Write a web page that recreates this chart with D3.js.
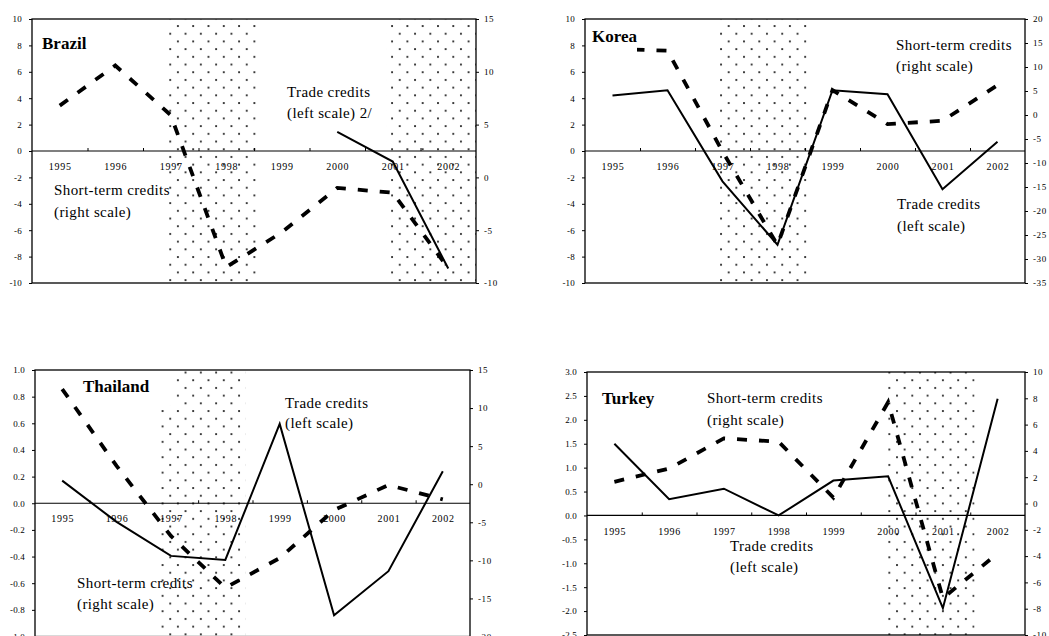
<!DOCTYPE html>
<html>
<head>
<meta charset="utf-8">
<script src="https://cdn.jsdelivr.net/npm/d3@7"></script>
<style>
  body { margin: 0; background: #fff; }
  svg { display: block; font-family: "Liberation Serif", "Times New Roman", serif; }
</style>
</head>
<body>
<script>
// values
const years = [1995, 1996, 1997, 1998, 1999, 2000, 2001, 2002];

const brazilTrade = [null, null, null, null, null, 1.45, -0.8, -8.9];
const brazilShort = [6.8, 10.6, 5.9, -8.5, -5.2, -1.0, -1.45, -8.6];

const koreaTrade = [4.2, 4.6, -2.3, -7.1, 4.6, 4.3, -2.9, 0.7];
const koreaShort = [13.8, 13.4, -7.6, -27.1, 5.2, -1.9, -1.2, 6.2];

const thaiTrade = [0.17, -0.14, -0.395, -0.425, 0.595, -0.84, -0.51, 0.24];
const thaiShort = [12.5, 2.4, -6.8, -13.6, -9.7, -3.4, -0.1, -2.0];

const turkeyTrade = [1.5, 0.34, 0.56, 0.0, 0.73, 0.82, -1.94, 2.44];
const turkeyShort = [1.65, 2.66, 4.95, 4.7, 0.45, 7.7, -7.2, -3.8];

// crisis periods (shaded), in years
const brazilCrisis = [[1996.93, 1998.57], [2000.89, 2002.5]];
const koreaCrisis = [[1996.93, 1998.6]];
const thaiCrisis = [[1996.75, 1998.37]];
const turkeyCrisis = [[1999.99, 2001.58]];

const W = 1049, H = 636;
const loc = d3.formatLocale({ decimal: ".", thousands: ",", grouping: [3], currency: ["$", ""], minus: "-" });

const svg = d3.select("body").append("svg")
    .attr("width", W)
    .attr("height", H);

// dotted fill used for the crisis bands
const pat = svg.append("defs").append("pattern")
    .attr("id", "dots")
    .attr("patternUnits", "userSpaceOnUse")
    .attr("width", 15.3)
    .attr("height", 15.4);
pat.append("rect").attr("x", 1).attr("y", 2).attr("width", 1.9).attr("height", 1.9).attr("fill", "#333");
pat.append("rect").attr("x", 8.65).attr("y", 9.7).attr("width", 1.9).attr("height", 1.9).attr("fill", "#333");

const panels = [
    {
        name: "Brazil", box: { l: 32, r: 476, t: 19, b: 283 },
        left: [-10, 10], leftTicks: d3.range(-10, 11, 2), leftFmt: "d",
        right: [-10, 15], rightTicks: d3.range(-10, 16, 5),
        trade: brazilTrade, short: brazilShort, crisis: brazilCrisis,
        titleBox: [36, 27, 60, 32], title: [42, 43],
        notes: [
            { x: 287, y: 92, t: "Trade credits" }, { x: 287, y: 113, t: "(left scale) 2/" },
            { x: 54, y: 190, t: "Short-term credits" }, { x: 54, y: 212, t: "(right scale)" }
        ]
    },
    {
        name: "Korea", box: { l: 585, r: 1025, t: 19, b: 283 },
        left: [-10, 10], leftTicks: d3.range(-10, 11, 2), leftFmt: "d",
        right: [-35, 20], rightTicks: d3.range(-35, 21, 5),
        trade: koreaTrade, short: koreaShort, crisis: koreaCrisis,
        titleBox: [586, 20, 51, 32], title: [592, 36],
        notes: [
            { x: 896, y: 45, t: "Short-term credits" }, { x: 896, y: 66, t: "(right scale)" },
            { x: 897, y: 204, t: "Trade credits" }, { x: 897, y: 226, t: "(left scale)" }
        ]
    },
    {
        name: "Thailand", box: { l: 35, r: 470, t: 370, b: 636.5 },
        left: [-1, 1], leftTicks: d3.range(-10, 11, 2).map(d => d / 10), leftFmt: ".1f",
        right: [-20, 15], rightTicks: d3.range(-20, 16, 5),
        trade: thaiTrade, short: thaiShort, crisis: thaiCrisis,
        titleBox: [76, 371, 97, 34], title: [83, 386],
        notes: [
            { x: 285, y: 403, t: "Trade credits" }, { x: 285, y: 423, t: "(left scale)" },
            { x: 77, y: 583, t: "Short-term credits" }, { x: 77, y: 604, t: "(right scale)" }
        ]
    },
    {
        name: "Turkey", box: { l: 587, r: 1025, t: 372, b: 635 },
        left: [-2.5, 3], leftTicks: d3.range(-5, 7, 1).map(d => d / 2), leftFmt: ".1f",
        right: [-10, 10], rightTicks: d3.range(-10, 11, 2),
        trade: turkeyTrade, short: turkeyShort, crisis: turkeyCrisis,
        titleBox: [596, 381, 66, 32], title: [602, 398],
        notes: [
            { x: 707, y: 398, t: "Short-term credits" }, { x: 707, y: 420, t: "(right scale)" },
            { x: 730, y: 546, t: "Trade credits" }, { x: 730, y: 567, t: "(left scale)" }
        ]
    }
];

function styleAxis(g, size, spacing) {
    g.select(".domain").remove();
    g.attr("font-family", null).attr("font-size", null);
    g.selectAll("line").attr("stroke", "#000");
    g.selectAll("text")
        .attr("fill", "#000")
        .style("font-size", size + "px")
        .style("letter-spacing", spacing + "px");
}

function drawPanel(p) {
    const b = p.box;
    const g = svg.append("g");

    const x = d3.scaleLinear().domain([years[0] - 0.5, years[years.length - 1] + 0.5]).range([b.l, b.r]);
    const yL = d3.scaleLinear().domain(p.left).range([b.b, b.t]);
    const yR = d3.scaleLinear().domain(p.right).range([b.b, b.t]);

    // shaded crisis bands
    g.append("g").selectAll("rect")
        .data(p.crisis)
        .join("rect")
        .attr("x", d => x(d[0]))
        .attr("width", d => x(d[1]) - x(d[0]))
        .attr("y", b.t)
        .attr("height", b.b - b.t)
        .attr("fill", "url(#dots)");

    // frame
    g.append("rect")
        .attr("x", b.l).attr("y", b.t)
        .attr("width", b.r - b.l).attr("height", b.b - b.t)
        .attr("fill", "none")
        .attr("stroke", "#000")
        .attr("stroke-width", 1.3);

    // left / right value axes
    g.append("g")
        .attr("transform", `translate(${b.l},0)`)
        .call(d3.axisLeft(yL).tickValues(p.leftTicks).tickSize(3).tickPadding(7).tickFormat(loc.format(p.leftFmt)))
        .call(a => styleAxis(a, 9, 0.2));

    g.append("g")
        .attr("transform", `translate(${b.r},0)`)
        .call(d3.axisRight(yR).tickValues(p.rightTicks).tickSize(3).tickPadding(5).tickFormat(loc.format("d")))
        .call(a => styleAxis(a, 9, 0.6));

    // zero line with category ticks and year labels
    const y0 = yL(0);
    g.append("line")
        .attr("x1", b.l).attr("x2", b.r)
        .attr("y1", y0).attr("y2", y0)
        .attr("stroke", "#000")
        .attr("stroke-width", 1.2);

    const bounds = years.slice(0, -1).map(d => d + 0.5);
    g.append("g")
        .attr("transform", `translate(0,${y0})`)
        .call(d3.axisBottom(x).tickValues(bounds).tickSize(-3).tickFormat(""))
        .call(a => styleAxis(a, 10, 0));

    g.append("g")
        .attr("transform", `translate(0,${y0})`)
        .call(d3.axisBottom(x).tickValues(years).tickSize(0).tickPadding(12).tickFormat(d3.format("d")))
        .call(a => styleAxis(a, 10, 0.7));

    // series
    const lineL = d3.line()
        .defined(d => d != null)
        .x((d, i) => x(years[i]))
        .y(d => yL(d));
    const lineR = d3.line()
        .defined(d => d != null)
        .x((d, i) => x(years[i]))
        .y(d => yR(d));

    g.append("path")
        .attr("d", lineL(p.trade))
        .attr("fill", "none")
        .attr("stroke", "#000")
        .attr("stroke-width", 2);

    g.append("path")
        .attr("d", lineR(p.short))
        .attr("fill", "none")
        .attr("stroke", "#000")
        .attr("stroke-width", 3.8)
        .attr("stroke-dasharray", "10,12");

    // title in a white text box
    g.append("rect")
        .attr("x", p.titleBox[0]).attr("y", p.titleBox[1])
        .attr("width", p.titleBox[2]).attr("height", p.titleBox[3])
        .attr("fill", "#fff");
    g.append("text")
        .attr("x", p.title[0])
        .attr("y", p.title[1])
        .attr("dy", "0.35em")
        .style("font-size", "17px")
        .style("font-weight", "bold")
        .text(p.name);

    g.append("g").selectAll("text")
        .data(p.notes)
        .join("text")
        .attr("x", d => d.x)
        .attr("y", d => d.y)
        .attr("dy", "0.35em")
        .style("font-size", "15px")
        .style("letter-spacing", "0.4px")
        .text(d => d.t);
}

panels.forEach(drawPanel);
</script>
</body>
</html>
